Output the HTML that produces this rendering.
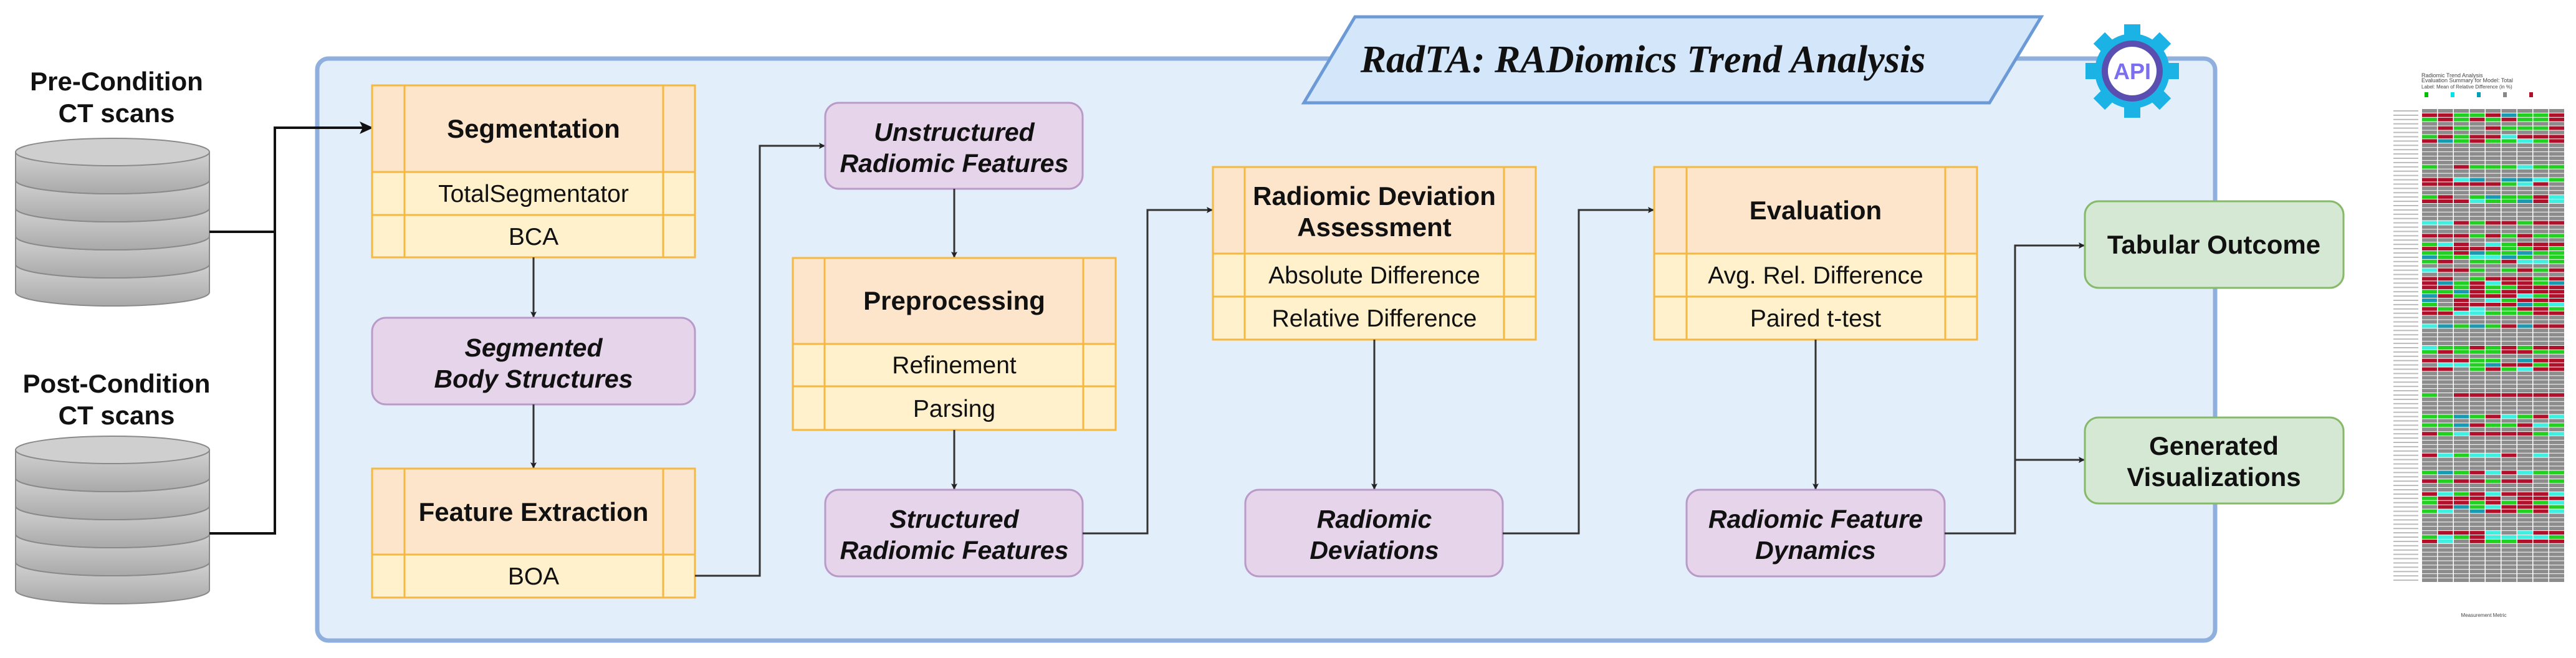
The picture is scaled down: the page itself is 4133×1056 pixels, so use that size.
<!DOCTYPE html>
<html><head><meta charset="utf-8"><style>
html,body{margin:0;padding:0;background:#fff;width:4133px;height:1056px;overflow:hidden}
svg{display:block}
.h{font-family:"Liberation Sans",sans-serif;font-weight:bold;font-size:42px;fill:#111;text-anchor:middle}
.r{font-family:"Liberation Sans",sans-serif;font-size:39px;fill:#111;text-anchor:middle}
.i{font-family:"Liberation Sans",sans-serif;font-weight:bold;font-style:italic;font-size:41px;fill:#111;text-anchor:middle}
.ln{fill:none;stroke:#333;stroke-width:3}
.hd{fill:#fde5cb;stroke:#f5b841;stroke-width:3}
.rw{fill:#fff1cc;stroke:#f5b841;stroke-width:3}
.vl{stroke:#f5b841;stroke-width:3}
.pu{fill:#e6d5ea;stroke:#b99ac8;stroke-width:3}
.gr{fill:#d4e8d3;stroke:#86b96a;stroke-width:3}
</style></head><body>
<svg id="s" width="4133" height="1056" viewBox="0 0 4133 1056" xmlns="http://www.w3.org/2000/svg">
<defs>
<marker id="a" markerWidth="10" markerHeight="10" refX="9" refY="5" orient="auto" markerUnits="userSpaceOnUse"><path d="M0,0 L10,5 L0,10 L2,5 z" fill="#222"/></marker>
<marker id="b" markerWidth="22" markerHeight="20" refX="20" refY="10" orient="auto" markerUnits="userSpaceOnUse"><path d="M0,0 L22,10 L0,20 L5,10 z" fill="#111"/></marker>
<linearGradient id="cg" x1="0" y1="0" x2="0" y2="1"><stop offset="0" stop-color="#d2d2d2"/><stop offset="1" stop-color="#a9a9a9"/></linearGradient>
</defs>

<rect x="509" y="94" width="3045" height="934" rx="18" fill="#e3eefb" stroke="#8fb0dc" stroke-width="7"/>

<g id="cyl1"></g><g id="cyl2"></g>
<text class="h" x="187" y="145">Pre-Condition</text>
<text class="h" x="187" y="196">CT scans</text>
<text class="h" x="187" y="630">Post-Condition</text>
<text class="h" x="187" y="681">CT scans</text>

<path d="M336,372 H441" style="fill:none;stroke:#111;stroke-width:4"/>
<path d="M336,856 H441 V205 H597" style="fill:none;stroke:#111;stroke-width:4" marker-end="url(#b)"/>

<rect class="hd" x="597" y="137" width="518" height="139"/>
<rect class="rw" x="597" y="276" width="518" height="69"/>
<rect class="rw" x="597" y="345" width="518" height="68"/>
<line class="vl" x1="649" y1="137" x2="649" y2="413"/><line class="vl" x1="1064" y1="137" x2="1064" y2="413"/>
<text class="h" x="856" y="221">Segmentation</text>
<text class="r" x="856" y="324">TotalSegmentator</text>
<text class="r" x="856" y="393">BCA</text>

<path class="ln" d="M856,413 V509" marker-end="url(#a)"/>
<rect class="pu" x="597" y="510" width="518" height="139" rx="22"/>
<text class="i" x="856" y="572">Segmented</text>
<text class="i" x="856" y="622">Body Structures</text>
<path class="ln" d="M856,649 V751" marker-end="url(#a)"/>

<rect class="hd" x="597" y="752" width="518" height="138"/>
<rect class="rw" x="597" y="890" width="518" height="69"/>
<line class="vl" x1="649" y1="752" x2="649" y2="959"/><line class="vl" x1="1064" y1="752" x2="1064" y2="959"/>
<text class="h" x="856" y="836">Feature Extraction</text>
<text class="r" x="856" y="938">BOA</text>

<path class="ln" d="M1115,924 H1219 V234 H1323" marker-end="url(#a)"/>

<rect class="pu" x="1324" y="165" width="413" height="138" rx="22"/>
<text class="i" x="1531" y="226">Unstructured</text>
<text class="i" x="1531" y="276">Radiomic Features</text>
<path class="ln" d="M1531,303 V413" marker-end="url(#a)"/>

<rect class="hd" x="1272" y="414" width="518" height="138"/>
<rect class="rw" x="1272" y="552" width="518" height="68"/>
<rect class="rw" x="1272" y="620" width="518" height="70"/>
<line class="vl" x1="1323" y1="414" x2="1323" y2="690"/><line class="vl" x1="1738" y1="414" x2="1738" y2="690"/>
<text class="h" x="1531" y="497">Preprocessing</text>
<text class="r" x="1531" y="599">Refinement</text>
<text class="r" x="1531" y="669">Parsing</text>
<path class="ln" d="M1531,690 V785" marker-end="url(#a)"/>

<rect class="pu" x="1324" y="786" width="413" height="139" rx="22"/>
<text class="i" x="1531" y="847">Structured</text>
<text class="i" x="1531" y="897">Radiomic Features</text>
<path class="ln" d="M1737,856 H1841 V337 H1945" marker-end="url(#a)"/>

<rect class="hd" x="1946" y="268" width="518" height="139"/>
<rect class="rw" x="1946" y="407" width="518" height="69"/>
<rect class="rw" x="1946" y="476" width="518" height="69"/>
<line class="vl" x1="1997" y1="268" x2="1997" y2="545"/><line class="vl" x1="2413" y1="268" x2="2413" y2="545"/>
<text class="h" x="2205" y="329">Radiomic Deviation</text>
<text class="h" x="2205" y="379">Assessment</text>
<text class="r" x="2205" y="455">Absolute Difference</text>
<text class="r" x="2205" y="524">Relative Difference</text>
<path class="ln" d="M2205,545 V785" marker-end="url(#a)"/>

<rect class="pu" x="1998" y="786" width="413" height="139" rx="22"/>
<text class="i" x="2205" y="847">Radiomic</text>
<text class="i" x="2205" y="897">Deviations</text>
<path class="ln" d="M2411,856 H2533 V337 H2653" marker-end="url(#a)"/>

<rect class="hd" x="2654" y="268" width="518" height="139"/>
<rect class="rw" x="2654" y="407" width="518" height="69"/>
<rect class="rw" x="2654" y="476" width="518" height="69"/>
<line class="vl" x1="2706" y1="268" x2="2706" y2="545"/><line class="vl" x1="3121" y1="268" x2="3121" y2="545"/>
<text class="h" x="2913" y="352">Evaluation</text>
<text class="r" x="2913" y="455">Avg. Rel. Difference</text>
<text class="r" x="2913" y="524">Paired t-test</text>
<path class="ln" d="M2913,545 V785" marker-end="url(#a)"/>

<rect class="pu" x="2706" y="786" width="414" height="139" rx="22"/>
<text class="i" x="2913" y="847">Radiomic Feature</text>
<text class="i" x="2913" y="897">Dynamics</text>
<path class="ln" d="M3120,856 H3233 V394 H3344" marker-end="url(#a)"/>
<path class="ln" d="M3233,738 H3344" marker-end="url(#a)"/>

<rect class="gr" x="3345" y="323" width="415" height="139" rx="22"/>
<text class="h" x="3552" y="407">Tabular Outcome</text>
<rect class="gr" x="3345" y="670" width="415" height="138" rx="22"/>
<text class="h" x="3552" y="730">Generated</text>
<text class="h" x="3552" y="780">Visualizations</text>

<polygon points="2174,27 3275,27 3192,165 2092,165" fill="#d4e6f9" stroke="#6b9ad6" stroke-width="5"/>
<text x="2636" y="116" text-anchor="middle" style="font-family:'Liberation Serif',serif;font-weight:bold;font-style:italic;font-size:62px;fill:#111">RadTA: RADiomics Trend Analysis</text>

<g id="gear" transform="translate(3421,114)"></g>

<text x="3885" y="124" style="font-family:'Liberation Sans',sans-serif;font-size:9px;fill:#444">Radiomic Trend Analysis</text>
<text x="3885" y="132" style="font-family:'Liberation Sans',sans-serif;font-size:9px;fill:#444">Evaluation Summary for Model: Total</text>
<text x="3885" y="142" style="font-family:'Liberation Sans',sans-serif;font-size:8px;fill:#444">Label: Mean of Relative Difference (in %)</text>
<text x="3985" y="990" text-anchor="middle" style="font-family:'Liberation Sans',sans-serif;font-size:8px;fill:#444">Measurement Metric</text>
<g id="hm"></g>
</svg>
<script>
(function(){
var NS="http://www.w3.org/2000/svg";
function el(t,a,p){var e=document.createElementNS(NS,t);for(var k in a)e.setAttribute(k,a[k]);p.appendChild(e);return e;}
function cyl(g,top){
  var x=25,w=311,rx=155.5,ry=22,cx=x+rx;
  var n=5,h=(491-222-2*ry)/n;
  for(var i=n-1;i>=0;i--){
    var y=top+ry+i*h;
    el("path",{d:"M"+x+","+y+" V"+(y+h)+" A"+rx+","+ry+" 0 0 0 "+(x+w)+","+(y+h)+" V"+y+" Z",fill:"url(#cg)",stroke:"#8a8a8a","stroke-width":2},g);
    el("ellipse",{cx:cx,cy:y,rx:rx,ry:ry,fill:"#cfcfcf",stroke:"#8a8a8a","stroke-width":2},g);
  }
}
cyl(document.getElementById("cyl1"),222);
cyl(document.getElementById("cyl2"),700);
var gear=document.getElementById("gear");
for(var i=0;i<8;i++){el("rect",{x:-13,y:-75,width:26,height:30,fill:"#1bb3e6",transform:"rotate("+(i*45)+")"},gear);}
el("circle",{cx:0,cy:0,r:60,fill:"#1bb3e6"},gear);
el("circle",{cx:0,cy:0,r:44,fill:"#fff",stroke:"#5a4fb0","stroke-width":10},gear);
var t=el("text",{x:0,y:13,"text-anchor":"middle",style:"font-family:'Liberation Sans',sans-serif;font-weight:bold;font-size:36px;fill:#7b6ff0"},gear);t.textContent="API";
var hm=document.getElementById("hm");
var seed=7;function rnd(){seed=(seed*9301+49297)%233280;return seed/233280;}
var rows=110,cols=9,x0=3886,y0=175,cw=25.5,rh=(935-175)/rows;
var legend=["#00c000","#00e5e5","#00a0b0","#888","#b0102a"];
for(var l=0;l<5;l++){el("rect",{x:3890+l*42,y:148,width:6,height:8,fill:legend[l]},hm);}
for(var r=0;r<rows;r++){
  var mode=rnd();
  el("rect",{x:3840,y:y0+r*rh+2,width:40,height:2,fill:"#bbb"},hm);
  for(var c=0;c<cols;c++){
    var col="#8c8c8c";
    if(mode>0.5){var q=rnd();col=q<0.4?"#b0102a":q<0.7?"#22d022":q<0.85?"#3ff0e0":q<0.93?"#1a9ab0":"#8c8c8c";}
    el("rect",{x:x0+c*cw,y:y0+r*rh,width:cw-1.5,height:rh-1,fill:col},hm);
  }
}
})();
</script>
</body></html>
